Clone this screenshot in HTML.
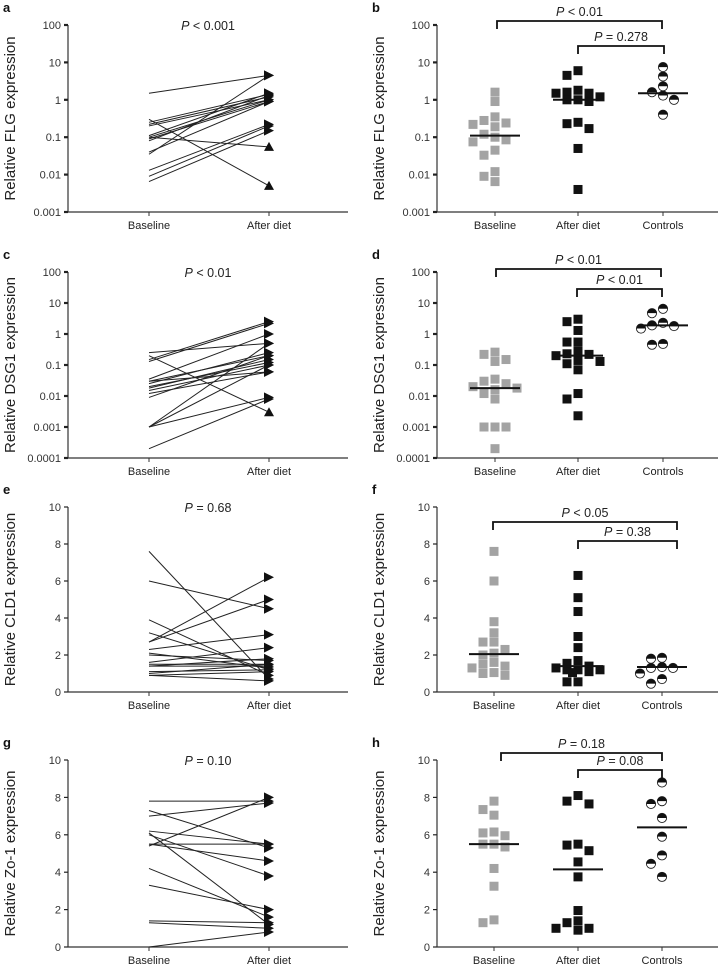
<!DOCTYPE html>
<html><head><meta charset="utf-8"><style>
body{margin:0;background:#fff}
svg{display:block;font-family:"Liberation Sans",Arial,sans-serif}
</style></head><body>
<svg id="fig" width="720" height="968" viewBox="0 0 720 968" xmlns="http://www.w3.org/2000/svg"></svg>
<script>
// ---- data ----
const groupLabelsPaired = ["Baseline","After diet"];
const groupLabelsDot = ["Baseline","After diet","Controls"];
const flgBase  = [1.5,0.3,0.25,0.22,0.2,0.1,0.1,0.09,0.08,0.04,0.035,0.013,0.009,0.0065,0.11];
const flgAfter = [4.5,0.005,1.4,1.2,1.0,1.0,0.055,0.9,1.3,0.9,4.5,0.22,0.2,0.15,1.5];
const flgB = [1.6,0.9,0.28,0.22,0.19,0.24,0.35,0.1,0.075,0.085,0.12,0.045,0.033,0.012,0.0065,0.009];
const flgA = [6,4.5,1.6,1.8,1.5,1.5,1.2,1.0,1.0,0.9,0.25,0.17,0.23,0.05,0.004];
const flgC = [7.5,4.2,2.3,1.3,1.6,1.0,0.4];
const flgMed = [0.11,1.0,1.5];
const dsgBase  = [0.25,0.2,0.15,0.13,0.035,0.03,0.025,0.02,0.018,0.015,0.012,0.009,0.001,0.001,0.001,0.0002,0.03];
const dsgAfter = [0.5,0.003,2.5,2.2,1.0,0.2,0.25,0.12,0.15,0.1,0.06,0.2,0.1,0.5,0.009,0.008,0.06];
const dsgB = [0.22,0.13,0.15,0.26,0.035,0.016,0.025,0.008,0.012,0.02,0.018,0.03,0.001,0.001,0.001,0.0002];
const dsgA = [2.5,3.0,1.3,0.55,0.55,0.28,0.13,0.22,0.2,0.11,0.14,0.23,0.07,0.012,0.008,0.0023];
const dsgC = [4.7,6.5,2.3,1.8,1.5,1.9,0.45,0.48];
const dsgMed = [0.018,0.2,1.9];
const cldBase  = [7.6,6.0,3.9,3.2,2.7,2.7,2.3,2.1,2.0,1.6,1.5,1.4,1.4,1.1,1.0,0.9,0.9];
const cldAfter = [0.7,4.5,0.9,1.2,6.2,5.0,3.1,1.3,1.7,2.4,1.5,1.4,1.8,1.2,1.5,1.1,0.6];
const cldB = [7.6,6.0,3.8,3.2,2.7,2.7,2.3,2.0,2.1,1.6,1.4,1.3,1.5,1.05,0.9,1.0];
const cldA = [6.3,5.1,4.35,3.0,2.4,1.55,1.7,1.4,1.3,1.2,1.2,1.2,1.05,1.1,0.55,0.55];
const cldC = [1.8,1.85,1.35,1.3,1.3,1.0,0.7,0.45];
const cldMed = [2.05,1.4,1.35];
const zoBase  = [7.8,7.3,7.0,6.2,6.1,6.0,5.5,5.4,5.5,4.2,3.3,1.4,1.3,0];
const zoAfter = [7.8,5.3,7.7,5.5,1.2,3.8,5.5,8.0,4.6,1.6,2.0,1.3,1.0,0.8];
const zoB = [7.8,7.35,7.05,6.15,6.1,5.95,5.5,5.35,5.5,4.2,3.25,1.45,1.3];
const zoA = [8.1,7.8,7.65,5.5,5.45,5.15,4.55,3.75,1.95,1.4,1.3,1.0,1.0,0.9];
const zoC = [8.8,7.8,7.65,6.9,5.9,4.9,4.45,3.75];
const zoMed = [5.5,4.15,6.4];
const logTicks3 = ["0.001","0.01","0.1","1","10","100"];
const logTicks4 = ["0.0001","0.001","0.01","0.1","1","10","100"];
const linTicks = ["0","2","4","6","8","10"];

// ---- drawing ----
const NS="http://www.w3.org/2000/svg";
const svg=document.getElementById('fig');
function el(t,a,p){const e=document.createElementNS(NS,t);for(const k in a)e.setAttribute(k,a[k]);(p||svg).appendChild(e);return e;}
function txt(s,a,p){const e=el('text',a,p);e.textContent=s;return e;}

function makeScale(cfg){
  if(cfg.log){const lo=Math.log10(parseFloat(cfg.ticks[0])),hi=Math.log10(parseFloat(cfg.ticks[cfg.ticks.length-1]));
    return v=>cfg.yBot-(Math.log10(Math.max(v,1e-9))-lo)/(hi-lo)*(cfg.yBot-cfg.yTop);}
  const lo=parseFloat(cfg.ticks[0]),hi=parseFloat(cfg.ticks[cfg.ticks.length-1]);
  return v=>cfg.yBot-(v-lo)/(hi-lo)*(cfg.yBot-cfg.yTop);
}

function axes(g,cfg,y,cats){
  const ax=el('g',{},g);
  
  
  el('line',{x1:cfg.ax,y1:cfg.yTop,x2:cfg.ax,y2:cfg.yBot,stroke:'#333','stroke-width':1.2},ax);
  el('line',{x1:cfg.ax,y1:cfg.yBot,x2:cfg.x1,y2:cfg.yBot,stroke:'#333','stroke-width':1.2},ax);
  cfg.ticks.forEach(t=>{const yy=y(parseFloat(t));
    el('line',{x1:cfg.ax-4,y1:yy,x2:cfg.ax,y2:yy,stroke:'#222','stroke-width':cfg.log?2.2:1.2},ax);
    const l=txt(t,{x:cfg.ax-7,y:yy+4,'font-size':11,'text-anchor':'end',fill:'#333'},ax);
    });
  cfg.xs.forEach((x,i)=>{el('line',{x1:x,y1:cfg.yBot,x2:x,y2:cfg.yBot+4,stroke:'#333'},ax);
    const l=txt(cats[i],{x:x,y:cfg.yBot+17,'font-size':11,'text-anchor':'middle',fill:'#222'},ax);
    });
  const yt=txt(cfg.title,{x:0,y:0,'font-size':15,'text-anchor':'middle',fill:'#222',transform:`translate(${cfg.ax-53},${(cfg.yTop+cfg.yBot)/2}) rotate(-90)`},ax);
  
  const lt=txt(cfg.letter,{x:cfg.ax-65,y:cfg.yTop-13,'font-size':13,'font-weight':'bold',fill:'#111'},ax);
  
}

function pLabel(g,str,x,yy){
  const t=txt('',{x:x,y:yy,'font-size':12.5,'text-anchor':'middle',fill:'#222'},g);
  const i=el('tspan',{'font-style':'italic'},t);i.textContent='P';
  const r=el('tspan',{},t);r.textContent=' '+str;
  
}

function paired(cfg,base,after){
  const g=el('g',{});
  
  
  const y=makeScale(cfg);
  axes(g,cfg,y,groupLabelsPaired);
  pLabel(g,cfg.p,208,cfg.yTop+5);
  const [x0,x1]=cfg.xs;
  base.forEach((b,i)=>{const a=after[i];
    const ln=el('line',{x1:x0,y1:y(b),x2:x1,y2:y(a),stroke:'#222','stroke-width':1},g);
    
    const ya=y(a);let pts;
    if(cfg.log&&a<b) pts=`${x1-5},${ya+4} ${x1+5},${ya+4} ${x1},${ya-5}`;
    else pts=`${x1-5},${ya-5} ${x1-5},${ya+5} ${x1+5},${ya}`;
    const tr=el('polygon',{points:pts,fill:'#111'},g);
    
  });
}

function swarm(vals,y,s){
  const placed=[];const order=vals.map((v,i)=>i).sort((a,b)=>vals[b]-vals[a]);
  const off=new Array(vals.length).fill(0);
  order.forEach(i=>{const yy=y(vals[i]);
    const cands=[0];for(let k=1;k<5;k++){cands.push(-k*5.5,k*5.5);}
    let best=0,bestD=-1;
    for(const c of cands){
      const d=Math.min(99,...placed.map(p=>Math.max(Math.abs(p.x-c),Math.abs(p.y-yy))));
      if(d>=s){best=c;bestD=d;break;}
      if(d>bestD){bestD=d;best=c;}
    }
    off[i]=best;placed.push({x:best,y:yy});
  });
  return off;
}

function dots(cfg,groups,med){
  const g=el('g',{});
  
  
  const y=makeScale(cfg);
  axes(g,cfg,y,groupLabelsDot);
  groups.forEach((vals,gi)=>{const x=cfg.xs[gi];
    const off=swarm(vals,y,9);
    vals.forEach((v,i)=>{const cx=x+off[i],cy=y(v);
      if(gi<2){const r=el('rect',{x:cx-4.5,y:cy-4.5,width:9,height:9,fill:gi==0?'#a3a3a3':'#111'},g);
        }
      else{const c=el('g',{},g);
        el('circle',{cx:cx,cy:cy,r:4.6,fill:'#fff',stroke:'#222','stroke-width':0.9},c);
        el('path',{d:`M${cx-4.6},${cy} A4.6,4.6 0 0 1 ${cx+4.6},${cy} Z`,fill:'#111'},c);}
    });
    const m=el('line',{x1:x-25,y1:y(med[gi]),x2:x+25,y2:y(med[gi]),stroke:'#111','stroke-width':2},g);
    
  });
  cfg.br.forEach(b=>{const p=el('path',{d:`M${b.x0},${b.y+8} V${b.y} H${b.x1} V${b.y+8}`,fill:'none',stroke:'#111','stroke-width':1.8},g);
    
    pLabel(g,b.p,(b.x0+b.x1)/2,b.y-5);});
}

paired({letter:'a',ax:68,x1:348,yTop:25,yBot:212,log:true,ticks:logTicks3,xs:[149,269],title:'Relative FLG expression',p:'< 0.001'},flgBase,flgAfter);
dots({letter:'b',ax:437,x1:718,yTop:25,yBot:212,log:true,ticks:logTicks3,xs:[495,578,663],title:'Relative FLG expression',
  br:[{x0:497,x1:662,y:21,p:'< 0.01'},{x0:578,x1:664,y:46,p:'= 0.278'}]},[flgB,flgA,flgC],flgMed);
paired({letter:'c',ax:68,x1:348,yTop:272,yBot:458,log:true,ticks:logTicks4,xs:[149,269],title:'Relative DSG1 expression',p:'< 0.01'},dsgBase,dsgAfter);
dots({letter:'d',ax:437,x1:718,yTop:272,yBot:458,log:true,ticks:logTicks4,xs:[495,578,663],title:'Relative DSG1 expression',
  br:[{x0:496,x1:661,y:269,p:'< 0.01'},{x0:577,x1:662,y:289,p:'< 0.01'}]},[dsgB,dsgA,dsgC],dsgMed);
paired({letter:'e',ax:68,x1:348,yTop:507,yBot:692,log:false,ticks:linTicks,xs:[149,269],title:'Relative CLD1 expression',p:'= 0.68'},cldBase,cldAfter);
dots({letter:'f',ax:437,x1:718,yTop:507,yBot:692,log:false,ticks:linTicks,xs:[494,578,662],title:'Relative CLD1 expression',
  br:[{x0:493,x1:677,y:522,p:'< 0.05'},{x0:578,x1:677,y:541,p:'= 0.38'}]},[cldB,cldA,cldC],cldMed);
paired({letter:'g',ax:68,x1:348,yTop:760,yBot:947,log:false,ticks:linTicks,xs:[149,269],title:'Relative Zo-1 expression',p:'= 0.10'},zoBase,zoAfter);
dots({letter:'h',ax:437,x1:718,yTop:760,yBot:947,log:false,ticks:linTicks,xs:[494,578,662],title:'Relative Zo-1 expression',
  br:[{x0:501,x1:662,y:753,p:'= 0.18'},{x0:578,x1:662,y:770,p:'= 0.08'}]},[zoB,zoA,zoC],zoMed);
</script>
</body></html>
